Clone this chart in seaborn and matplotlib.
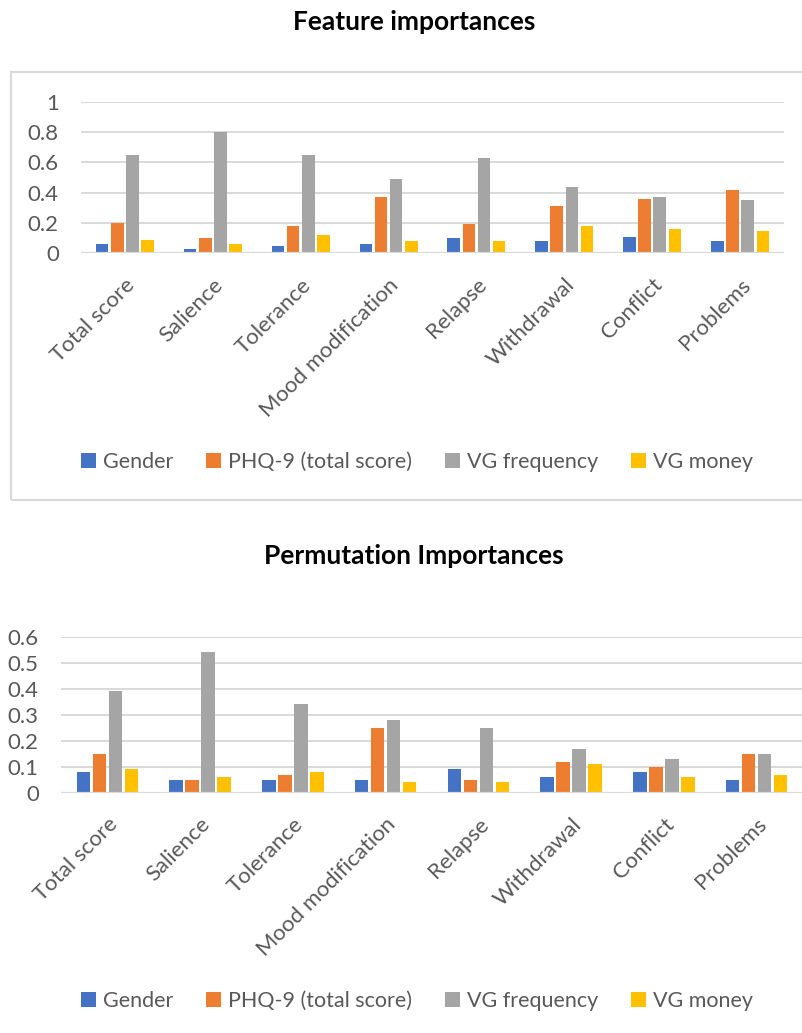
import numpy as np
import pandas as pd
import seaborn as sns
from matplotlib import pyplot as plt
from matplotlib.patches import Rectangle

# Data
categories = ["Total score", "Salience", "Tolerance", "Mood modification",
              "Relapse", "Withdrawal", "Conflict", "Problems"]
features = ["Gender", "PHQ-9 (total score)", "VG frequency", "VG money"]

# Feature importances
fi_gender = [0.06, 0.03, 0.05, 0.06, 0.10, 0.08, 0.11, 0.08]
fi_phq9 = [0.20, 0.10, 0.18, 0.37, 0.19, 0.31, 0.36, 0.42]
fi_vg_freq = [0.65, 0.80, 0.65, 0.49, 0.63, 0.44, 0.37, 0.35]
fi_vg_money = [0.09, 0.06, 0.12, 0.08, 0.08, 0.18, 0.16, 0.15]

# Permutation importances
pi_gender = [0.08, 0.05, 0.05, 0.05, 0.09, 0.06, 0.08, 0.05]
pi_phq9 = [0.15, 0.05, 0.07, 0.25, 0.05, 0.12, 0.10, 0.15]
pi_vg_freq = [0.39, 0.54, 0.34, 0.28, 0.25, 0.17, 0.13, 0.15]
pi_vg_money = [0.09, 0.06, 0.08, 0.04, 0.04, 0.11, 0.06, 0.07]

palette = ["#4472C4", "#ED7D31", "#A5A5A5", "#FFC000"]
grid_col = "#D9D9D9"
text_col = "#595959"


def to_long(series):
    rows = []
    for feat, vals in zip(features, series):
        for cat, v in zip(categories, vals):
            rows.append({"category": cat, "feature": feat, "value": v})
    return pd.DataFrame(rows)


df_fi = to_long([fi_gender, fi_phq9, fi_vg_freq, fi_vg_money])
df_pi = to_long([pi_gender, pi_phq9, pi_vg_freq, pi_vg_money])

sns.set_theme(style="white")
plt.rcParams["font.family"] = ["Lato", "DejaVu Sans"]

W, H = 803, 1033
fig = plt.figure(figsize=(W / 100, H / 100), dpi=100)


def px_axes(left, top, right, bottom):
    return fig.add_axes([left / W, 1 - bottom / H, (right - left) / W, (bottom - top) / H])


def draw(ax, df, ymax, step, title, title_y, legend_y):
    sns.barplot(data=df, x="category", y="value", hue="feature",
                order=categories, hue_order=features, palette=palette,
                saturation=1, width=0.69, gap=0.17, linewidth=0,
                errorbar=None, legend=True, ax=ax)
    ax.set_ylim(0, ymax)
    ax.set_xlim(-0.5, len(categories) - 0.5)
    ticks = np.round(np.arange(0, ymax + step / 2, step), 2)
    ax.set_yticks(ticks)
    ax.set_yticklabels([f"{t:g}" for t in ticks])
    ax.yaxis.grid(True, color=grid_col, lw=1.4)
    ax.set_axisbelow(True)
    ax.axhline(0, color=grid_col, lw=1.6, zorder=4)
    sns.despine(ax=ax, left=True, bottom=True)
    ax.set_xlabel("")
    ax.set_ylabel("")
    ax.tick_params(axis="y", length=0, pad=16, labelsize=16, labelcolor=text_col)
    ax.tick_params(axis="x", length=0, pad=15.4, labelsize=16, labelcolor=text_col)
    for lab in ax.get_xticklabels():
        lab.set_rotation(45)
        lab.set_ha("right")
        lab.set_va("top")
        lab.set_rotation_mode("anchor")
    handles, labels = ax.get_legend_handles_labels()
    ax.get_legend().remove()
    fig.legend(handles, labels, loc="center", bbox_to_anchor=(417 / W, 1 - legend_y / H),
               ncol=4, frameon=False, fontsize=15.5, labelcolor=text_col,
               handlelength=0.7, handleheight=0.7, handletextpad=0.35,
               columnspacing=1.5)
    fig.text(414 / W, 1 - title_y / H, title, ha="center", va="center",
             fontsize=19, fontweight="bold", color="black")


ax1 = px_axes(81, 101.7, 784, 253.3)
draw(ax1, df_fi, 1.0, 0.2, "Feature importances", 22, 462)

ax2 = px_axes(61, 636.7, 803, 792.7)
draw(ax2, df_pi, 0.6, 0.1, "Permutation Importances", 556, 1001)

# light frame around the first chart (cut by the right edge)
fig.patches.append(Rectangle((11 / W, 1 - 500 / H), 830 / W, 428 / H,
                             transform=fig.transFigure, fill=False,
                             edgecolor=grid_col, lw=1.5))

plt.savefig("out.png", dpi=100)
